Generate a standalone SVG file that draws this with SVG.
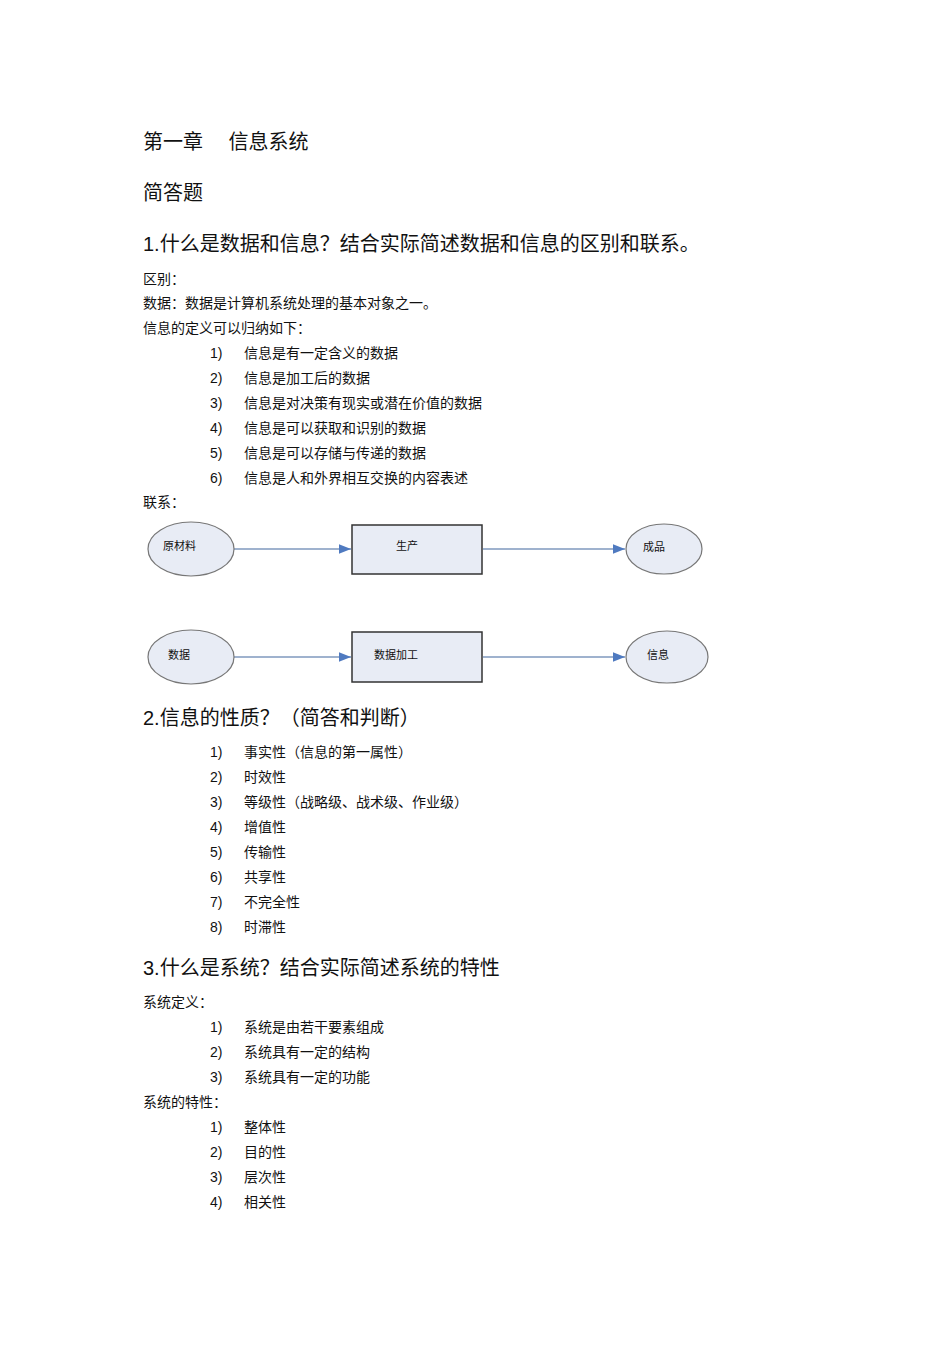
<svg xmlns="http://www.w3.org/2000/svg" width="950" height="1345" viewBox="0 0 950 1345">
<style>
text{font-family:"Liberation Sans","Noto Sans CJK SC",sans-serif;fill:#111}
.h{font-size:20px}.b{font-size:14px}.s{font-size:11px}
.n{fill:#e8ecf5;stroke:#777;stroke-width:1.2}
.r{fill:#e8ecf5;stroke:#333;stroke-width:1.5}
.c{stroke:#7f98be;stroke-width:1.5;fill:none;marker-end:url(#a)}
</style>
<defs><marker id="a" viewBox="0 0 10 10" refX="10" refY="5" markerWidth="8" markerHeight="8" orient="auto"><path d="M0,1 L10,5 L0,9z" fill="#4f7ac0"/></marker></defs>
<rect width="950" height="1345" fill="#fff"/>
<text class="h" x="143" y="149">第一章　 信息系统</text>
<text class="h" x="143" y="200">简答题</text>
<text class="h" x="143" y="251">1.什么是数据和信息？结合实际简述数据和信息的区别和联系。</text>
<text class="b" x="143" y="284">区别：</text>
<text class="b" x="143" y="308">数据：数据是计算机系统处理的基本对象之一。</text>
<text class="b" x="143" y="333">信息的定义可以归纳如下：</text>
<g class="b">
<text class="b" x="210" y="358">1)</text><text class="b" x="244" y="358">信息是有一定含义的数据</text>
<text class="b" x="210" y="383">2)</text><text class="b" x="244" y="383">信息是加工后的数据</text>
<text class="b" x="210" y="408">3)</text><text class="b" x="244" y="408">信息是对决策有现实或潜在价值的数据</text>
<text class="b" x="210" y="433">4)</text><text class="b" x="244" y="433">信息是可以获取和识别的数据</text>
<text class="b" x="210" y="458">5)</text><text class="b" x="244" y="458">信息是可以存储与传递的数据</text>
<text class="b" x="210" y="483">6)</text><text class="b" x="244" y="483">信息是人和外界相互交换的内容表述</text>
</g>
<text class="b" x="143" y="507">联系：</text>
<g id="connectors">
<line class="c" x1="234" y1="549" x2="351" y2="549"/>
<line class="c" x1="483" y1="549" x2="625" y2="549"/>
<line class="c" x1="234" y1="657" x2="351" y2="657"/>
<line class="c" x1="483" y1="657" x2="625" y2="657"/>
</g>
<g id="n1"><ellipse class="n" cx="191" cy="549" rx="43" ry="27"/><text class="s" x="163" y="550">原材料</text></g>
<g id="n2"><rect class="r" x="352" y="525" width="130" height="49"/><text class="s" x="396" y="550">生产</text></g>
<g id="n3"><ellipse class="n" cx="664" cy="549" rx="38" ry="25"/><text class="s" x="643" y="551">成品</text></g>
<g id="n4"><ellipse class="n" cx="191" cy="657" rx="43" ry="27"/><text class="s" x="168" y="659">数据</text></g>
<g id="n5"><rect class="r" x="352" y="632" width="130" height="50"/><text class="s" x="374" y="659">数据加工</text></g>
<g id="n6"><ellipse class="n" cx="667" cy="657" rx="41" ry="26"/><text class="s" x="647" y="659">信息</text></g>
<text class="h" x="143" y="725">2.信息的性质？（简答和判断）</text>
<text class="b" x="210" y="757">1)</text><text class="b" x="244" y="757">事实性（信息的第一属性）</text>
<text class="b" x="210" y="782">2)</text><text class="b" x="244" y="782">时效性</text>
<text class="b" x="210" y="807">3)</text><text class="b" x="244" y="807">等级性（战略级、战术级、作业级）</text>
<text class="b" x="210" y="832">4)</text><text class="b" x="244" y="832">增值性</text>
<text class="b" x="210" y="857">5)</text><text class="b" x="244" y="857">传输性</text>
<text class="b" x="210" y="882">6)</text><text class="b" x="244" y="882">共享性</text>
<text class="b" x="210" y="907">7)</text><text class="b" x="244" y="907">不完全性</text>
<text class="b" x="210" y="932">8)</text><text class="b" x="244" y="932">时滞性</text>
<text class="h" x="143" y="975">3.什么是系统？结合实际简述系统的特性</text>
<text class="b" x="143" y="1007">系统定义：</text>
<text class="b" x="210" y="1032">1)</text><text class="b" x="244" y="1032">系统是由若干要素组成</text>
<text class="b" x="210" y="1057">2)</text><text class="b" x="244" y="1057">系统具有一定的结构</text>
<text class="b" x="210" y="1082">3)</text><text class="b" x="244" y="1082">系统具有一定的功能</text>
<text class="b" x="143" y="1107">系统的特性：</text>
<text class="b" x="210" y="1132">1)</text><text class="b" x="244" y="1132">整体性</text>
<text class="b" x="210" y="1157">2)</text><text class="b" x="244" y="1157">目的性</text>
<text class="b" x="210" y="1182">3)</text><text class="b" x="244" y="1182">层次性</text>
<text class="b" x="210" y="1207">4)</text><text class="b" x="244" y="1207">相关性</text>
</svg>
